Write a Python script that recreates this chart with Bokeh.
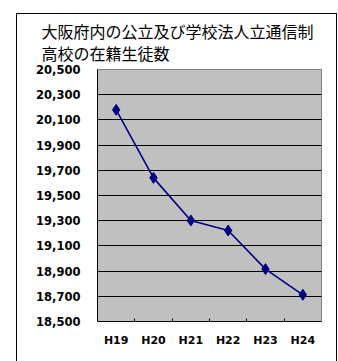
from bokeh.plotting import figure
from bokeh.models import FixedTicker, Title, Range1d, NumeralTickFormatter, InlineStyleSheet
from bokeh.embed import file_html
from bokeh.resources import INLINE

categories = ["H19", "H20", "H21", "H22", "H23", "H24"]
students = [20180, 19640, 19302, 19222, 18916, 18712]
y_ticks = [18500, 18700, 18900, 19100, 19300, 19500, 19700, 19900, 20100, 20300, 20500]
title_lines = ["大阪府内の公立及び学校法人立通信制", "高校の在籍生徒数"]

xs = [i + 0.5 for i in range(len(categories))]

p = figure(width=338, height=361, output_backend="svg", toolbar_location=None,
           x_range=Range1d(0, len(categories)), y_range=Range1d(y_ticks[0], y_ticks[-1]),
           min_border_left=97, min_border_right=17, min_border_top=69, min_border_bottom=40)

p.background_fill_color = "#C0C0C0"
p.border_fill_color = "white"
p.outline_line_color = "#808080"
p.outline_line_width = 1

t = Title(text="\n".join(title_lines), align="left", text_font="Noto Sans CJK JP",
          text_font_size="16px", text_font_style="normal", text_color="black",
          text_line_height=0.92, offset=-56, standoff=9)
p.add_layout(t, "above")

p.line(xs, students, line_color="#000080", line_width=1.6)
p.scatter(xs, students, marker="diamond", size=11, fill_color="#000080", line_color="#000080")

# y axis
p.yaxis.ticker = FixedTicker(ticks=y_ticks)
p.yaxis.formatter = NumeralTickFormatter(format="0,0")
p.yaxis.major_label_text_font = "DejaVu Sans"
p.yaxis.major_label_text_font_style = "bold"
p.yaxis.major_label_text_font_size = "11.5px"
p.yaxis.major_label_text_color = "black"
p.yaxis.major_tick_in = 0
p.yaxis.major_tick_out = 0
p.yaxis.minor_tick_line_color = None
p.yaxis.axis_line_color = "black"
p.yaxis.major_label_standoff = 17

# x axis
p.xaxis.ticker = FixedTicker(ticks=xs, minor_ticks=list(range(1, len(categories))))
p.xaxis.major_label_overrides = {x: c for x, c in zip(xs, categories)}
p.xaxis.major_label_text_font = "DejaVu Sans"
p.xaxis.major_label_text_font_style = "bold"
p.xaxis.major_label_text_font_size = "11px"
p.xaxis.major_label_text_color = "black"
p.xaxis.major_tick_line_color = None
p.xaxis.minor_tick_in = 3
p.xaxis.minor_tick_out = 0
p.xaxis.minor_tick_line_color = "black"
p.xaxis.axis_line_color = "black"
p.xaxis.major_label_standoff = 6

p.xgrid.grid_line_color = None
p.ygrid.ticker = FixedTicker(ticks=y_ticks)
p.ygrid.grid_line_color = "black"
p.ygrid.grid_line_alpha = 1.0
p.ygrid.grid_line_width = 1

p.stylesheets = [InlineStyleSheet(css="""
:host { position: relative; }
:host::after { content: ''; position: absolute; left: 16px; top: 13px; width: 321px; height: 400px;
  border: 1px solid black; pointer-events: none; box-sizing: border-box; }
""")]

open("out.html", "w").write(file_html(p, INLINE))
